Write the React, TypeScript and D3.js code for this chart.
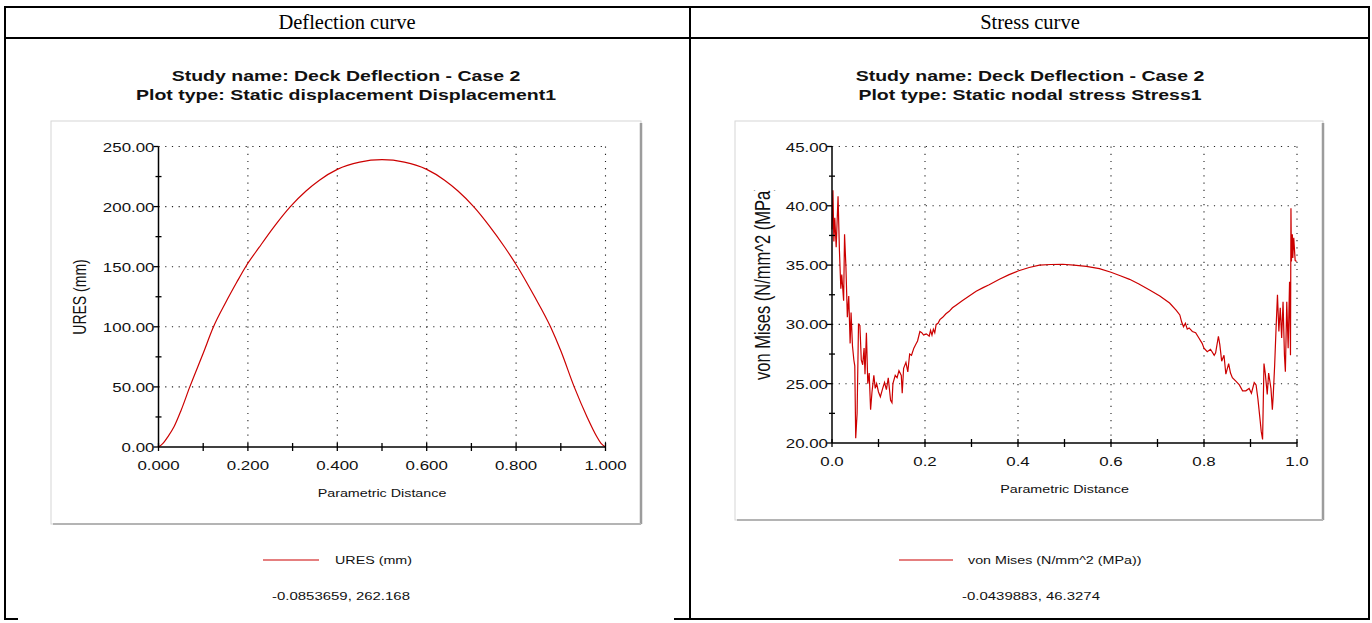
import React from "react";
import * as d3 from "d3";

// deflection curve (URES, mm)
const deflectionDistance = [
  0, 0.01, 0.02, 0.035, 0.05, 0.07, 0.1, 0.123, 0.15, 0.175, 0.195, 0.225, 0.26, 0.295, 0.33, 0.36, 0.4,
  0.45, 0.5, 0.55, 0.6, 0.64, 0.67, 0.705, 0.74, 0.775, 0.803, 0.84, 0.877, 0.9, 0.93, 0.96, 0.98, 0.99, 1.0,
];
const deflectionUres = [
  0, 3, 8, 17, 30, 50, 78, 100, 120, 137, 150, 166, 184, 200, 213, 222, 231,
  237, 239, 237, 231, 222, 213, 200, 184, 166, 150, 126, 100, 80, 50, 24, 9, 3, 0,
];

// stress curve (von Mises, MPa)
const stressDistance = [
  0, 0.002, 0.004, 0.006, 0.009, 0.013, 0.016, 0.019, 0.021, 0.025, 0.027, 0.03, 0.033, 0.036, 0.039,
  0.041, 0.044, 0.047, 0.049, 0.051, 0.054, 0.057, 0.06, 0.063, 0.066, 0.069, 0.071, 0.074, 0.077, 0.08,
  0.083, 0.086, 0.09, 0.093, 0.096, 0.1, 0.104, 0.109, 0.113, 0.117, 0.121, 0.126, 0.129, 0.131, 0.136,
  0.14, 0.144, 0.149, 0.151, 0.154, 0.159, 0.163, 0.167, 0.171, 0.176, 0.18, 0.184, 0.189, 0.193, 0.197,
  0.203, 0.209, 0.212, 0.215, 0.218, 0.221, 0.224, 0.228, 0.232, 0.238, 0.245, 0.252, 0.259, 0.266, 0.28,
  0.295, 0.31, 0.325, 0.338, 0.36, 0.381, 0.4, 0.424, 0.446, 0.47, 0.496, 0.52, 0.547, 0.575, 0.6, 0.62,
  0.64, 0.66, 0.683, 0.705, 0.726, 0.74, 0.748, 0.752, 0.756, 0.76, 0.764, 0.768, 0.775, 0.782, 0.789,
  0.796, 0.8, 0.807, 0.814, 0.822, 0.825, 0.831, 0.834, 0.838, 0.843, 0.847, 0.853, 0.857, 0.861, 0.869,
  0.876, 0.883, 0.89, 0.897, 0.902, 0.908, 0.912, 0.916, 0.921, 0.923, 0.926, 0.929, 0.932, 0.936, 0.939,
  0.944, 0.947, 0.949, 0.952, 0.955, 0.958, 0.961, 0.964, 0.967, 0.97, 0.973, 0.975, 0.978, 0.981, 0.984,
  0.986, 0.987, 0.988, 0.99, 0.991, 0.993, 0.996, 0.999,
];
const stressVonMises = [
  38.0, 41.3, 37.0, 39.0, 36.5, 40.8, 36.2, 33.0, 34.2, 32.0, 37.6, 34.8, 30.6, 32.4, 28.4,
  31.0, 28.2, 27.0, 26.5, 20.4, 22.5, 30.0, 29.9, 27.0, 26.6, 28.0, 25.8, 29.3, 25.0, 25.9,
  22.8, 24.3, 25.7, 24.6, 25.0, 24.3, 23.9, 24.6, 25.1, 24.5, 25.5, 23.6, 23.4, 25.0, 25.7,
  25.5, 26.1, 25.7, 24.2, 26.3, 26.8, 26.0, 27.5, 27.4, 28.0, 28.3, 28.6, 29.4, 29.3, 29.1,
  29.2, 29.0, 29.5, 29.1, 29.6, 29.3, 30.0, 30.1, 30.4, 30.6, 30.9, 31.1, 31.4, 31.6, 32.0,
  32.4, 32.8, 33.1, 33.35, 33.8, 34.2, 34.5, 34.8, 35.0, 35.05, 35.07, 35.0, 34.9, 34.7, 34.4, 34.1,
  33.8, 33.4, 32.9, 32.4, 31.8, 31.2, 30.8, 30.2, 29.8, 30.1, 29.6, 29.7, 29.4, 29.3, 28.85,
  28.4, 28.0, 27.7, 27.9, 27.4, 27.6, 29.0, 28.3, 26.9, 27.4, 25.8, 26.7, 25.9, 25.5, 25.2,
  24.9, 24.4, 24.4, 24.6, 24.2, 25.1, 24.9, 23.7, 21.8, 21.0, 20.3, 26.7, 25.8, 24.1, 25.9,
  24.6, 22.8, 24.1, 26.6, 29.7, 32.5, 29.4, 31.4, 28.85, 31.9, 27.4, 26.0, 31.9, 28.0, 33.6,
  27.4, 39.8, 35.3, 37.6, 35.6, 37.3, 35.4, 35.3,
];

const deflectionYTicks = [0, 50, 100, 150, 200, 250];
const deflectionXTicks = [0, 0.2, 0.4, 0.6, 0.8, 1.0];
const stressYTicks = [20, 25, 30, 35, 40, 45];
const stressXTicks = [0, 0.2, 0.4, 0.6, 0.8, 1.0];

const SANS = "'Liberation Sans', Arial, sans-serif";
const SERIF = "'Liberation Serif', 'Times New Roman', serif";
const SX = 1.3; // the screenshot is stretched sideways
const RED = "#cc0000";

function Txt({ x, y, size, children, anchor = "middle", bold = false, rotate = 0, color = "#111" }: any) {
  const tr = `translate(${x},${y}) scale(${SX},1)` + (rotate ? ` rotate(${rotate})` : "");
  return (
    <text transform={tr} fontFamily={SANS} fontSize={size} fontWeight={bold ? "bold" : "normal"}
      textAnchor={anchor} fill={color}>
      {children}
    </text>
  );
}

function Chart({ c }: any) {
  const x = d3.scaleLinear().domain([0, 1]).range([c.x0, c.x1]);
  const y = d3.scaleLinear().domain([c.yTicks[0], c.yTicks[c.yTicks.length - 1]]).range([c.yBot, c.yTop]);
  const pts = c.xs.map((d: number, i: number) => [d, c.ys[i]]);
  const line = d3.line().x((d: any) => x(d[0])).y((d: any) => y(d[1])).curve(c.smooth ? d3.curveMonotoneX : d3.curveLinear);
  const step = c.yTicks[1] - c.yTicks[0];
  const yMinor = d3.range(c.yTicks[0] + step / 2, c.yTicks[c.yTicks.length - 1], step);
  const xAll = d3.range(0, 11).map((i) => i / 10);
  const p = c.panel;
  return (
    <g>
      <rect x={p.x} y={p.y} width={p.w} height={p.h} fill="#fff" stroke="#d6d6d6" strokeWidth={1} />
      <line x1={p.x + p.w} y1={p.y + 2} x2={p.x + p.w} y2={p.y + p.h} stroke="#9c9c9c" strokeWidth={2.5} />
      <line x1={p.x + 2} y1={p.y + p.h} x2={p.x + p.w} y2={p.y + p.h} stroke="#b4b4b4" strokeWidth={2} />

      {c.titles.map((t: string, i: number) => (
        <Txt key={t} x={c.cx} y={c.titleY + i * 19} size={15} bold>{t}</Txt>
      ))}

      {/* dotted grid */}
      {c.yTicks.slice(1).map((v: number) => (
        <line key={"gy" + v} x1={c.x0} x2={c.x1} y1={y(v)} y2={y(v)} stroke="#222" strokeWidth={1.1} strokeDasharray="1.2 5.5" />
      ))}
      {c.xTicks.slice(1).map((v: number) => (
        <line key={"gx" + v} x1={x(v)} x2={x(v)} y1={c.yTop} y2={c.yBot} stroke="#222" strokeWidth={1.1} strokeDasharray="1.2 6" />
      ))}

      <path d={line(pts as any) || ""} fill="none" stroke={RED} strokeWidth={1.2} />

      {/* axes */}
      <line x1={c.x0} x2={c.x0} y1={c.yTop} y2={c.yBot} stroke="#000" strokeWidth={1.5} />
      <line x1={c.x0} x2={c.x1} y1={c.yBot} y2={c.yBot} stroke="#000" strokeWidth={1.5} />
      {c.yTicks.map((v: number) => (
        <line key={"ty" + v} x1={c.x0 - 5} x2={c.x0} y1={y(v)} y2={y(v)} stroke="#000" strokeWidth={1.3} />
      ))}
      {yMinor.map((v: number) => (
        <line key={"tm" + v} x1={c.x0 - 3} x2={c.x0 + 3} y1={y(v)} y2={y(v)} stroke="#000" strokeWidth={1.3} />
      ))}
      {xAll.map((v: number) => (
        <line key={"tx" + v} x1={x(v)} x2={x(v)} y1={c.yBot - 4} y2={c.yBot + 4} stroke="#000" strokeWidth={1.3} />
      ))}
      {c.yTicks.map((v: number) => (
        <Txt key={"ly" + v} x={c.x0 - 4} y={y(v) + 5} size={13} anchor="end">{v.toFixed(2)}</Txt>
      ))}
      {c.xTicks.map((v: number) => (
        <Txt key={"lx" + v} x={x(v)} y={c.yBot + 23} size={13}>{v.toFixed(c.xDigits)}</Txt>
      ))}
      <Txt x={(c.x0 + c.x1) / 2} y={c.yBot + 50} size={11}>Parametric Distance</Txt>
      <g clipPath={c.clipId ? `url(#${c.clipId})` : undefined}>
        <Txt x={c.yLabelX} y={c.yLabelY} size={c.yLabelSize} rotate={-90} anchor={c.yLabelAnchor}>{c.yLabel}</Txt>
      </g>

      {/* legend */}
      <line x1={c.legend.x1} x2={c.legend.x2} y1={c.legend.y} y2={c.legend.y} stroke={RED} strokeWidth={1.2} />
      <Txt x={c.legend.tx} y={c.legend.y + 4} size={11} anchor="start">{c.series}</Txt>
      <Txt x={c.coordX} y={c.coordY} size={11.5}>{c.coord}</Txt>
    </g>
  );
}

const leftChart = {
  panel: { x: 51, y: 121, w: 590, h: 403 },
  cx: 346, titleY: 81,
  titles: ["Study name: Deck Deflection - Case 2", "Plot type: Static displacement Displacement1"],
  x0: 158.5, x1: 605.5, yTop: 146.5, yBot: 447,
  yTicks: deflectionYTicks, xTicks: deflectionXTicks, xDigits: 3,
  xs: deflectionDistance, ys: deflectionUres, smooth: true,
  yLabel: "URES (mm)", yLabelX: 86, yLabelY: 297, yLabelSize: 14, yLabelAnchor: "middle",
  series: "URES (mm)",
  legend: { x1: 263, x2: 319, y: 560, tx: 335 },
  coord: "-0.0853659, 262.168", coordX: 341, coordY: 600,
};

const rightChart = {
  panel: { x: 735, y: 121, w: 588, h: 399 },
  cx: 1030, titleY: 81,
  titles: ["Study name: Deck Deflection - Case 2", "Plot type: Static nodal stress Stress1"],
  x0: 832, x1: 1297, yTop: 146.5, yBot: 443,
  yTicks: stressYTicks, xTicks: stressXTicks, xDigits: 1,
  xs: stressDistance, ys: stressVonMises, smooth: false,
  yLabel: "von Mises (N/mm^2 (MPa))", yLabelX: 770, yLabelY: 380, yLabelSize: 16.5, yLabelAnchor: "start",
  clipId: "vmclip",
  series: "von Mises (N/mm^2 (MPa))",
  legend: { x1: 899, x2: 953, y: 560, tx: 968 },
  coord: "-0.0439883, 46.3274", coordX: 1031, coordY: 600,
};

export default function App() {
  return (
    <svg width={1372} height={623} style={{ position: "absolute", left: 0, top: 0, background: "#fff" }}>
      <defs>
        <clipPath id="vmclip">
          <rect x={740} y={190} width={60} height={250} />
        </clipPath>
      </defs>
      <rect width={1372} height={623} fill="#fff" />

      {/* document table */}
      <g stroke="#000" strokeWidth={2} fill="none">
        <line x1={5} x2={1369} y1={7} y2={7} />
        <line x1={5} x2={1369} y1={38} y2={38} />
        <line x1={5} x2={5} y1={6} y2={620} />
        <line x1={690} x2={690} y1={6} y2={620} />
        <line x1={1369} x2={1369} y1={6} y2={620} />
        <line x1={4} x2={18} y1={619} y2={619} />
        <line x1={674} x2={1370} y1={619} y2={619} />
      </g>
      <text x={347} y={29} fontFamily={SERIF} fontSize={20.5} textAnchor="middle" fill="#000">Deflection curve</text>
      <text x={1030} y={29} fontFamily={SERIF} fontSize={20.5} textAnchor="middle" fill="#000">Stress curve</text>

      <Chart c={leftChart} />
      <Chart c={rightChart} />
    </svg>
  );
}
